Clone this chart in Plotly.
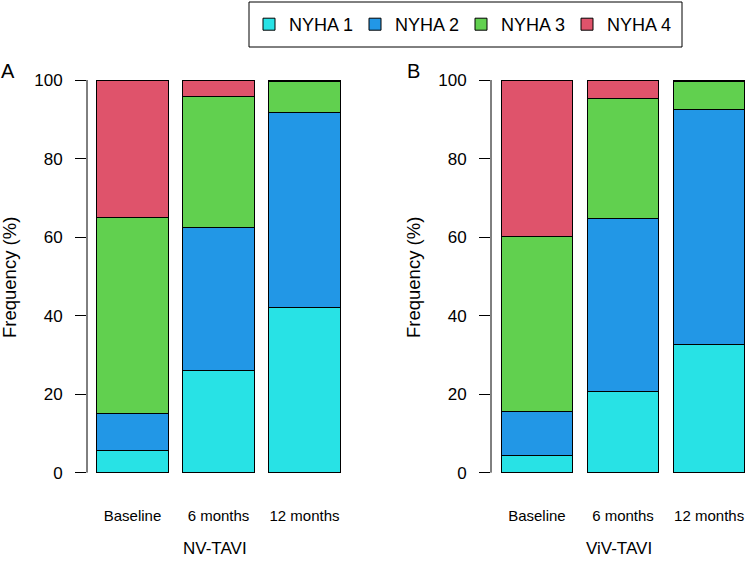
import plotly.graph_objects as go

categories = ["Baseline", "6 months", "12 months"]
series_names = ["NYHA 1", "NYHA 2", "NYHA 3", "NYHA 4"]
colors = ["#28E2E5", "#2297E6", "#61D04F", "#DF536B"]

# NV-TAVI (panel A), percentages per NYHA class
nv_nyha1 = [5.7, 26.1, 42.0]
nv_nyha2 = [9.4, 36.3, 49.8]
nv_nyha3 = [50.0, 33.5, 7.9]
nv_nyha4 = [34.9, 4.1, 0.3]

# ViV-TAVI (panel B)
viv_nyha1 = [4.3, 20.6, 32.7]
viv_nyha2 = [11.4, 44.2, 59.8]
viv_nyha3 = [44.5, 30.4, 7.2]
viv_nyha4 = [39.8, 4.8, 0.3]

y_ticks = [0, 20, 40, 60, 80, 100]
panel_titles = ["NV-TAVI", "ViV-TAVI"]
panel_letters = ["A", "B"]
y_title = "Frequency (%)"

FONT = "Liberation Sans, Arial, sans-serif"
W, H = 747, 565

fig = go.Figure()
xpos = list(range(len(categories)))

nv = [nv_nyha1, nv_nyha2, nv_nyha3, nv_nyha4]
viv = [viv_nyha1, viv_nyha2, viv_nyha3, viv_nyha4]

for i, name in enumerate(series_names):
    fig.add_trace(go.Bar(
        x=xpos, y=nv[i], name=name, marker=dict(color=colors[i], line=dict(color="black", width=1)),
        xaxis="x", yaxis="y", legendgroup=name, showlegend=True,
    ))
for i, name in enumerate(series_names):
    fig.add_trace(go.Bar(
        x=xpos, y=viv[i], name=name, marker=dict(color=colors[i], line=dict(color="black", width=1)),
        xaxis="x2", yaxis="y2", legendgroup=name, showlegend=False,
    ))

ydom = [(H - 476.6) / H, (H - 76.1) / H]
xdomA = [87.0 / W, 343.2 / W]
xdomB = [491.0 / W, 1.0]

xcommon = dict(tickvals=xpos, ticktext=categories, ticks="", showline=False, showgrid=False,
               zeroline=False, tickfont=dict(family=FONT, size=15, color="black"),
               ticklabelstandoff=28, fixedrange=True, automargin=False)
ycommon = dict(range=[-1, 101], tickvals=y_ticks, ticks="outside", ticklen=11, tickwidth=1,
               tickcolor="black", showline=False, showgrid=False, zeroline=False,
               tickfont=dict(family=FONT, size=17, color="black"), ticklabelstandoff=9,
               domain=ydom, automargin=False)

fig.update_layout(
    width=W, height=H,
    margin=dict(l=0, r=0, t=0, b=0, autoexpand=False),
    paper_bgcolor="white", plot_bgcolor="white",
    barmode="stack", bargap=0.174,
    xaxis=dict(domain=xdomA, range=[-0.529, 2.45], anchor="y", **xcommon),
    yaxis=dict(anchor="x", **ycommon),
    xaxis2=dict(domain=xdomB, range=[-0.533, 2.44], anchor="y2", **xcommon),
    yaxis2=dict(anchor="x2", **ycommon),
    legend=dict(orientation="h", x=249 / W, xanchor="left", y=1 - 24.5 / H, yanchor="middle",
                borderwidth=0, bgcolor="rgba(0,0,0,0)",
                font=dict(family=FONT, size=18, color="black"), traceorder="normal",
                entrywidthmode="pixels", entrywidth=61),
    showlegend=True,
)

# legend frame (R-style box)
fig.add_shape(type="rect", xref="paper", yref="paper", x0=249 / W, x1=682 / W,
              y0=1 - 47 / H, y1=1 - 2 / H, line=dict(color="black", width=1),
              fillcolor="white", layer="above")

# y axis lines spanning 0-100 only (R style)
for xr, yr in [("x domain", "y"), ("x2 domain", "y2")]:
    fig.add_shape(type="line", xref=xr, yref=yr, x0=0, x1=0, y0=y_ticks[0], y1=y_ticks[-1],
                  line=dict(color="black", width=1))

# panel titles below
for xr, t in [("x domain", panel_titles[0]), ("x2 domain", panel_titles[1])]:
    fig.add_annotation(text=t, xref=xr, x=0.5, yref="paper", y=(H - 548) / H, showarrow=False,
                       xanchor="center", yanchor="middle", font=dict(family=FONT, size=17, color="black"))

# y titles
for xp in [9 / W, 413 / W]:
    fig.add_annotation(text=y_title, xref="paper", x=xp, yref="paper", y=(H - 278) / H,
                       textangle=-90, showarrow=False, xanchor="center", yanchor="middle",
                       font=dict(family=FONT, size=18.5, color="black"))

# panel letters
for xp, letter in [(8 / W, panel_letters[0]), (413 / W, panel_letters[1])]:
    fig.add_annotation(text=letter, xref="paper", x=xp, yref="paper", y=(H - 71) / H,
                       showarrow=False, xanchor="center", yanchor="middle",
                       font=dict(family=FONT, size=20, color="black"))

fig.write_html("out.html")
